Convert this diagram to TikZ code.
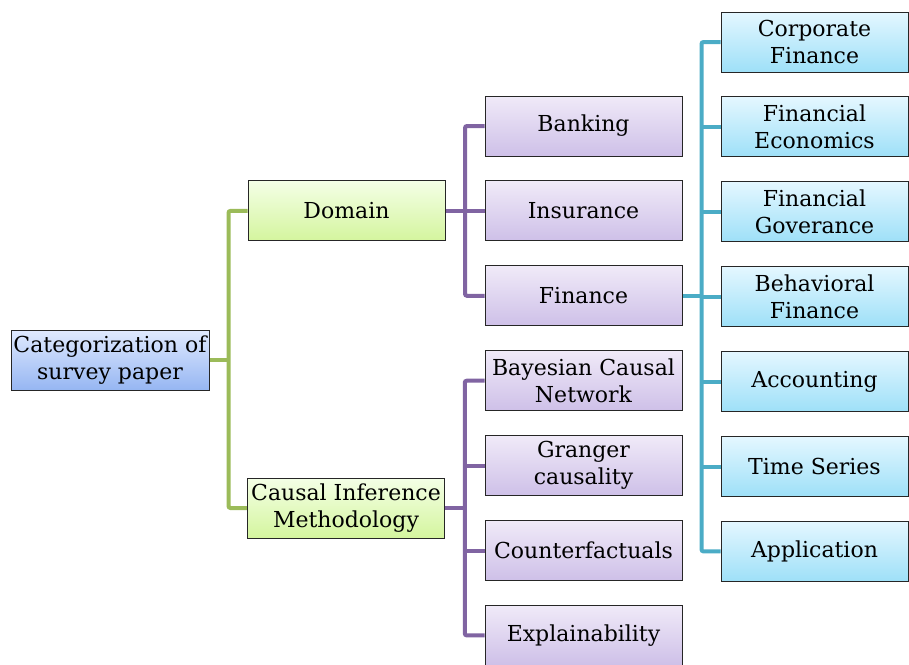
\documentclass[tikz,border=0pt]{standalone}
\usepackage{fontspec}
\setmainfont{DejaVu Serif}
\usetikzlibrary{positioning,calc,backgrounds}

\definecolor{rootTop}{RGB}{224,234,255}
\definecolor{rootBot}{RGB}{150,182,242}
\definecolor{domTop}{RGB}{244,255,230}
\definecolor{domBot}{RGB}{212,245,158}
\definecolor{purTop}{RGB}{240,234,248}
\definecolor{purBot}{RGB}{206,192,232}
\definecolor{bluTop}{RGB}{228,247,255}
\definecolor{bluBot}{RGB}{158,224,248}
\definecolor{grnLine}{RGB}{155,187,89}
\definecolor{purLine}{RGB}{128,100,162}
\definecolor{bluLine}{RGB}{75,172,198}

\begin{document}
\begin{tikzpicture} [
	x=1pt,y=-1pt,
	node distance=24pt and 39.1pt,
	box/.style={
		rectangle,draw=black!85,line width=0.9pt,
		minimum height=60pt,inner sep=1pt,align=center,
		font=\fontsize{22}{27}\selectfont},
	root/.style={
		box,top color=rootTop,bottom color=rootBot,
		minimum width=198pt},
	dom/.style={
		box,top color=domTop,bottom color=domBot,
		minimum width=197pt},
	purp/.style={
		box,top color=purTop,bottom color=purBot,
		minimum width=197pt},
	blu/.style={
		box,top color=bluTop,bottom color=bluBot,
		minimum width=187pt},
	glink/.style={
		draw=grnLine,line width=4pt,rounded corners=2pt},
	plink/.style={
		draw=purLine,line width=4pt,rounded corners=2pt},
	blink/.style={
		draw=bluLine,line width=4pt,rounded corners=2pt}]
\useasboundingbox (0,0) rectangle (909,664);
\node [purp]	(banking) at (583.5,126)		{Banking};
\node [purp]	(insurance) [below=of banking]	{Insurance};
\node [purp]	(finance) [below=of insurance]	{Finance};
\node [purp]	(bayes) [below=of finance]		{Bayesian Causal\\Network};
\node [purp]	(granger) [below=of bayes]		{Granger\\causality};
\node [purp]	(counter) [below=of granger]	{Counterfactuals};
\node [purp]	(explain) [below=of counter]	{Explainability};
\node [dom]	(domain) [left=of insurance]		{Domain};
\node [dom]	(causal) at (346,508)		{Causal Inference\\Methodology};
\node [root]	(survey) at (110,360)		{Categorization of\\survey paper};
\node [blu]	(corporate) at (814.5,42)		{Corporate\\Finance};
\node [blu]	(economics) [below=of corporate]	{Financial\\Economics};
\node [blu]	(governance) [below=of economics]	{Financial\\Goverance};
\node [blu]	(behavioral) [below=of governance]	{Behavioral\\Finance};
\node [blu]	(accounting) [below=of behavioral]	{Accounting};
\node [blu]	(timeseries) [below=of accounting]	{Time Series};
\node [blu]	(application) [below=of timeseries]	{Application};
\coordinate (gbus) at ($(survey.east)!0.5!(survey.east -| domain.west)$);
\coordinate (pbus1) at ($(domain.east)!0.5!(insurance.west)$);
\coordinate (pbus2) at ($(causal.east)!0.5!(causal.east -| counter.west)$);
\coordinate (bbus) at ($(finance.east)!0.5!(finance.east -| behavioral.west)$);
\begin{scope}[on background layer]
\draw[glink] (domain.west) -| (gbus) |- (causal.west);
\draw[glink] (survey.east) -- (gbus);
\draw[plink] (banking.west) -| (pbus1) |- (finance.west);
\draw[plink] (domain.east) -- (insurance.west);
\draw[plink] (bayes.west) -| (pbus2) |- (explain.west);
\draw[plink] (causal.east) -- (pbus2);
\draw[plink] (granger.west) -- (granger.west -| pbus2);
\draw[plink] (counter.west) -- (counter.west -| pbus2);
\draw[blink] (corporate.west) -| (bbus) |- (application.west);
\draw[blink] (finance.east) -- (bbus);
\draw[blink] (behavioral.west) -- (behavioral.west -| bbus);
\draw[blink] (economics.west) -- (economics.west -| bbus);
\draw[blink] (governance.west) -- (governance.west -| bbus);
\draw[blink] (accounting.west) -- (accounting.west -| bbus);
\draw[blink] (timeseries.west) -- (timeseries.west -| bbus);
\end{scope}
\end{tikzpicture}
\end{document}
